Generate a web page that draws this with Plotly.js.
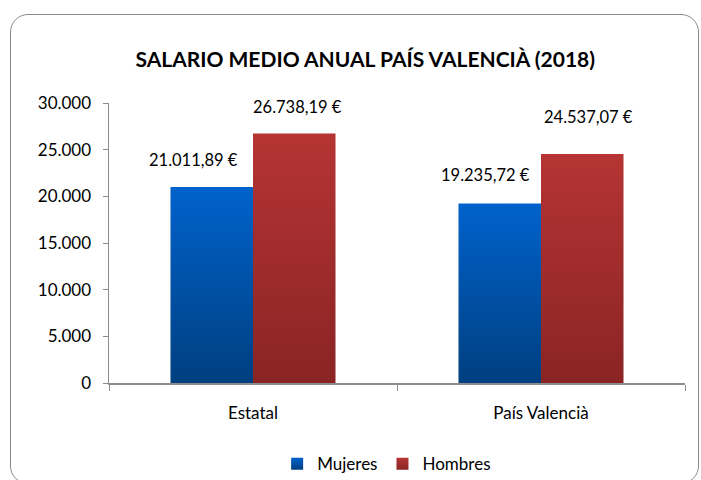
<!DOCTYPE html>
<html><head><meta charset="utf-8">
<script src="https://cdn.plot.ly/plotly-3.0.1.min.js"></script>
<style>
body{margin:0;padding:0;background:#fff;}
#frame{position:absolute;left:10px;top:14px;width:689px;height:470px;border:1.5px solid #8a8a8a;border-radius:18px;box-sizing:border-box;}
#chart{position:absolute;left:0;top:0;width:701px;height:480px;}
</style></head>
<body>
<div id="frame"></div>
<div id="chart"></div>
<script>
const categories = ["Estatal", "País Valencià"];
const mujeres = [21011.89, 19235.72];
const hombres = [26738.19, 24537.07];
const seriesNames = ["Mujeres", "Hombres"];
const yTickVals = [0, 5000, 10000, 15000, 20000, 25000, 30000];
const yTickText = ["0", "5.000", "10.000", "15.000", "20.000", "25.000", "30.000"];

function fmtEuro(v){
  const parts = v.toFixed(2).split(".");
  const intPart = parts[0].replace(/\B(?=(\d{3})+(?!\d))/g, ".");
  return intPart + "," + parts[1] + " €";
}

const FONT = "Lato, 'Open Sans', sans-serif";

const traces = [
  {type:"bar", name:seriesNames[0], x:categories, y:mujeres, marker:{color:"#0055B0"}, hoverinfo:"none"},
  {type:"bar", name:seriesNames[1], x:categories, y:hombres, marker:{color:"#A32D2D"}, hoverinfo:"none"}
];

const annotations = [];
const shiftsM = [[-19, 27], [-15, 28]];
const shiftsH = [[3, 26], [6, 37]];
categories.forEach((c,i)=>{
  annotations.push({x:c, y:mujeres[i], xref:"x", yref:"y", text:fmtEuro(mujeres[i]), showarrow:false,
    xshift:-41+shiftsM[i][0], yshift:shiftsM[i][1], font:{family:FONT, size:16.5, color:"#000"}});
  annotations.push({x:c, y:hombres[i], xref:"x", yref:"y", text:fmtEuro(hombres[i]), showarrow:false,
    xshift:41+shiftsH[i][0], yshift:shiftsH[i][1], font:{family:FONT, size:16.5, color:"#000"}});
});

const layout = {
  width:701, height:480,
  paper_bgcolor:"rgba(0,0,0,0)", plot_bgcolor:"rgba(0,0,0,0)",
  margin:{l:109, r:16, t:103, b:97, autoexpand:false},
  title:{text:"<b>SALARIO MEDIO ANUAL PAÍS VALENCIÀ (2018)</b>", x:0.521, xanchor:"center", y:0.875, yanchor:"middle",
    font:{family:FONT, size:21, color:"#000"}},
  barmode:"group", bargap:0.427, bargroupgap:0,
  font:{family:FONT, size:17, color:"#000"},
  xaxis:{showline:true, linecolor:"#8c8c8c", linewidth:1.5, ticks:"outside", tickson:"boundaries", ticklen:6,
    tickcolor:"#8c8c8c", tickfont:{family:FONT, size:17}, showgrid:false, zeroline:false, ticklabelstandoff:14,
    automargin:false},
  yaxis:{range:[0,30000], tickvals:yTickVals, ticktext:yTickText, showline:true, linecolor:"#8c8c8c", linewidth:1.5,
    ticks:"outside", ticklen:5, tickcolor:"#8c8c8c", showgrid:false, zeroline:false, tickfont:{family:FONT, size:17},
    ticklabelstandoff:8, automargin:false},
  legend:{orientation:"h", x:0.482, xanchor:"center", y:-0.29, yanchor:"middle", font:{family:FONT, size:17},
    itemwidth:30},
  annotations:annotations,
  showlegend:true
};

Plotly.newPlot("chart", traces, layout, {staticPlot:true, displayModeBar:false}).then(gd=>{
  const svg = gd.querySelector("svg.main-svg");
  const ns = "http://www.w3.org/2000/svg";
  let defs = svg.querySelector("defs");
  const grads = [["gM","#0062CC","#003F80"],["gH","#B63434","#8A2424"]];
  grads.forEach(([id,c1,c2])=>{
    const lg = document.createElementNS(ns,"linearGradient");
    lg.setAttribute("id",id); lg.setAttribute("x1","0"); lg.setAttribute("y1","0"); lg.setAttribute("x2","0"); lg.setAttribute("y2","1");
    const s1 = document.createElementNS(ns,"stop"); s1.setAttribute("offset","0"); s1.setAttribute("stop-color",c1);
    const s2 = document.createElementNS(ns,"stop"); s2.setAttribute("offset","1"); s2.setAttribute("stop-color",c2);
    lg.appendChild(s1); lg.appendChild(s2); defs.appendChild(lg);
  });
  gd.querySelectorAll(".barlayer .trace").forEach((t,i)=>{
    t.querySelectorAll("path").forEach(p=>{p.style.fill="url(#"+grads[i][0]+")";});
  });
  gd.querySelectorAll(".legend .traces").forEach((t,i)=>{
    t.querySelectorAll(".legendpoints path").forEach(p=>{p.style.fill="url(#"+grads[i][0]+")";});
  });
});
</script>
</body></html>
